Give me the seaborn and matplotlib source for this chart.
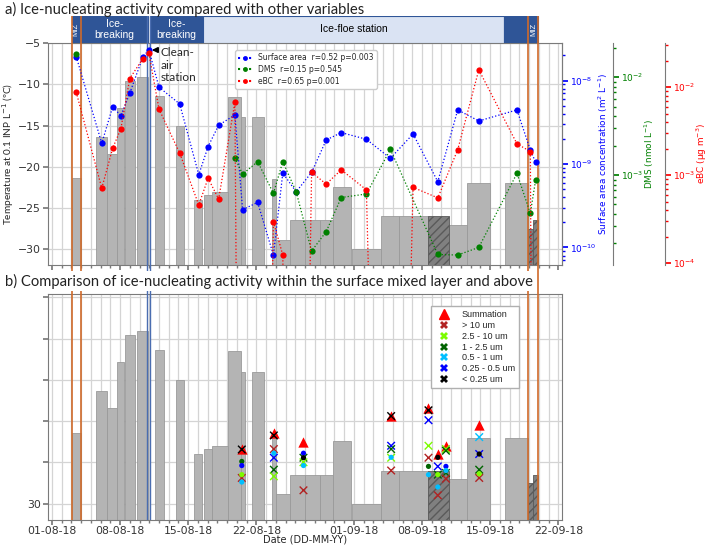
import numpy as np
import matplotlib
matplotlib.use("Agg")
import matplotlib.pyplot as plt
import matplotlib.dates as mdates
from matplotlib.lines import Line2D
import seaborn as sns

sns.set_theme(style="white")
plt.rcParams["font.family"] = ["DejaVu Sans"]

# INP temperature bars (filter sampling periods)
bar_start = ["2018-08-03 01:00", "2018-08-05 13:00", "2018-08-06 17:00", "2018-08-07 17:00",
             "2018-08-08 12:00", "2018-08-09 17:00", "2018-08-11 14:00", "2018-08-13 18:00",
             "2018-08-15 14:00", "2018-08-16 16:00", "2018-08-17 11:00", "2018-08-19 01:00",
             "2018-08-20 11:00", "2018-08-21 12:00", "2018-08-23 15:00", "2018-08-23 23:30",
             "2018-08-25 12:00", "2018-08-26 23:00", "2018-08-28 13:30", "2018-08-29 20:00",
             "2018-08-31 20:00", "2018-09-03 19:30", "2018-09-05 16:00", "2018-09-08 15:00",
             "2018-09-10 18:00", "2018-09-12 16:00", "2018-09-16 13:00", "2018-09-18 22:00",
             "2018-09-19 10:00"]
bar_end = ["2018-08-03 23:00", "2018-08-06 17:00", "2018-08-07 17:00", "2018-08-08 10:00",
           "2018-08-09 13:00", "2018-08-10 20:00", "2018-08-12 12:00", "2018-08-14 13:30",
           "2018-08-16 11:00", "2018-08-17 11:00", "2018-08-19 01:00", "2018-08-20 11:00",
           "2018-08-20 19:00", "2018-08-22 18:00", "2018-08-23 23:30", "2018-08-25 12:00",
           "2018-08-26 23:00", "2018-08-28 13:30", "2018-08-29 20:00", "2018-08-31 16:00",
           "2018-09-03 19:30", "2018-09-05 16:00", "2018-09-08 15:00", "2018-09-10 18:00",
           "2018-09-12 16:00", "2018-09-14 23:30", "2018-09-18 22:00", "2018-09-19 10:00",
           "2018-09-19 23:00"]
bar_temp = [-21.4, -16.4, -18.4, -12.9, -9.6, -9.1, -11.4, -15.0, -24.0, -23.4, -23.0, -11.5,
            -14.0, -14.0, -21.5, -28.9, -26.5, -26.5, -26.5, -22.4, -30.0, -26.0, -26.0, -26.0,
            -27.0, -22.0, -22.0, -27.5, -26.5]
bar_hatched = [False] * 23 + [True] + [False] * 3 + [True, True]

# aerosol sampling times, surface area and eBC (0 = below detection)
t_sample = ["2018-08-03 12:00", "2018-08-06 03:00", "2018-08-07 06:00", "2018-08-08 02:00",
            "2018-08-09 00:00", "2018-08-10 08:00", "2018-08-10 23:00", "2018-08-12 00:00",
            "2018-08-14 03:00", "2018-08-16 02:00", "2018-08-17 01:00", "2018-08-18 03:00",
            "2018-08-19 19:00", "2018-08-20 14:00", "2018-08-22 03:00", "2018-08-23 18:00",
            "2018-08-24 17:00", "2018-08-26 02:00", "2018-08-27 16:00", "2018-08-29 04:00",
            "2018-08-30 17:00", "2018-09-02 07:00", "2018-09-04 18:00", "2018-09-07 02:00",
            "2018-09-09 15:00", "2018-09-11 16:00", "2018-09-13 20:00", "2018-09-17 18:00",
            "2018-09-19 03:00", "2018-09-19 16:00"]
surface_area = [1.94e-8, 1.77e-9, 4.88e-9, 3.77e-9, 7.06e-9, 1.91e-8, 2.34e-8, 8.33e-9,
                5.25e-9, 7.44e-10, 1.62e-9, 2.92e-9, 3.87e-9, 2.84e-10, 3.47e-10, 8.09e-11,
                7.80e-10, 4.65e-10, 7.94e-10, 1.94e-9, 2.38e-9, 1.98e-9, 1.17e-9, 2.29e-9,
                6.14e-10, 4.45e-9, 3.28e-9, 4.45e-9, 1.47e-9, 1.05e-9]
ebc = [8.77e-3, 7.11e-4, 2.03e-3, 3.36e-3, 1.25e-2, 2.10e-2, 2.43e-2, 5.62e-3, 1.78e-3,
       4.59e-4, 9.24e-4, 5.34e-4, 6.72e-3, 0, 0, 2.97e-4, 1.24e-4, 0, 1.08e-3, 7.91e-4,
       1.15e-3, 6.81e-4, 0, 7.26e-4, 5.52e-4, 1.94e-3, 1.57e-2, 2.27e-3, 1.85e-3, 0]

# DMS
t_dms_first = ["2018-08-03 12:00"]
dms_first = [1.73e-2]
t_dms = ["2018-08-19 19:00", "2018-08-20 14:00", "2018-08-22 03:00", "2018-08-23 18:00",
         "2018-08-24 17:00", "2018-08-26 02:00", "2018-08-27 16:00", "2018-08-29 04:00",
         "2018-08-30 17:00", "2018-09-02 07:00", "2018-09-04 18:00", "2018-09-09 15:00",
         "2018-09-11 16:00", "2018-09-13 20:00", "2018-09-17 18:00", "2018-09-19 03:00",
         "2018-09-19 16:00"]
dms = [1.50e-3, 1.02e-3, 1.37e-3, 6.50e-4, 1.37e-3, 6.75e-4, 1.67e-4, 2.64e-4, 5.89e-4,
       6.40e-4, 1.83e-3, 1.54e-4, 1.52e-4, 1.82e-4, 1.04e-3, 4.06e-4, 8.89e-4]

# cruise phases (header)
phase_start = ["2018-08-03 01:00", "2018-08-03 23:00", "2018-08-11 01:40", "2018-08-16 12:45",
               "2018-09-16 10:30", "2018-09-18 22:00"]
phase_end = ["2018-08-03 23:00", "2018-08-10 21:30", "2018-08-16 12:45", "2018-09-16 10:30",
             "2018-09-18 22:00", "2018-09-19 23:00"]
phase_label = ["MIZ", "Ice-\nbreaking", "Ice-\nbreaking", "Ice-floe station", "", "MIZ"]
phase_dark = [True, True, True, False, True, True]
miz_edges = ["2018-08-03 01:00", "2018-08-03 23:00", "2018-09-18 22:00", "2018-09-19 23:00"]
clean_air = ["2018-08-10 19:10", "2018-08-11 01:40"]

# panel b: size-resolved INP temperatures
sum_date = ["2018-08-20 12:00", "2018-08-23 19:00", "2018-08-26 20:00", "2018-09-04 20:00",
            "2018-09-08 16:00", "2018-09-09 15:00", "2018-09-10 11:00", "2018-09-13 21:00"]
sum_temp = [-23.45, -21.5, -22.5, -19.4, -18.4, -24.0, -23.0, -20.45]

cross_date = ["2018-08-20 12:00", "2018-08-20 12:00",
              "2018-08-23 19:00", "2018-08-23 19:00", "2018-08-23 19:00", "2018-08-23 19:00", "2018-08-23 19:00",
              "2018-08-26 20:00", "2018-08-26 20:00", "2018-08-26 20:00",
              "2018-09-04 20:00", "2018-09-04 20:00", "2018-09-04 20:00", "2018-09-04 20:00", "2018-09-04 20:00",
              "2018-09-08 16:00", "2018-09-08 16:00", "2018-09-08 16:00", "2018-09-08 16:00",
              "2018-09-09 15:00", "2018-09-09 15:00", "2018-09-09 15:00",
              "2018-09-10 11:00", "2018-09-10 11:00", "2018-09-10 11:00", "2018-09-10 11:00",
              "2018-09-13 21:00", "2018-09-13 21:00", "2018-09-13 21:00", "2018-09-13 21:00"]
cross_size = ["<0.25", ">10",
              "<0.25", ">10", "0.25-0.5", "1-2.5", "2.5-10",
              "1-2.5", "2.5-10", ">10",
              "<0.25", "0.25-0.5", "1-2.5", "2.5-10", ">10",
              "<0.25", "0.25-0.5", "2.5-10", ">10",
              "0.25-0.5", "1-2.5", ">10",
              "2.5-10", "1-2.5", "1-2.5", ">10",
              "0.5-1", "0.25-0.5", "1-2.5", ">10"]
cross_temp = [-23.45, -26.9,
              -21.75, -23.4, -24.45, -25.9, -26.7,
              -24.45, -25.0, -28.4,
              -19.4, -23.0, -23.4, -24.45, -26.0,
              -18.7, -19.9, -23.0, -24.45,
              -25.5, -26.5, -29.0,
              -23.4, -23.6, -26.3, -27.0,
              -21.95, -24.0, -25.9, -26.9]

dot_date = ["2018-08-20 12:00", "2018-08-20 12:00", "2018-08-20 12:00", "2018-08-20 12:00",
            "2018-08-23 19:00",
            "2018-08-26 20:00", "2018-08-26 20:00", "2018-08-26 20:00",
            "2018-09-04 20:00",
            "2018-09-08 16:00", "2018-09-08 16:00",
            "2018-09-09 15:00", "2018-09-09 15:00", "2018-09-09 15:00",
            "2018-09-10 11:00", "2018-09-10 11:00",
            "2018-09-13 21:00", "2018-09-13 21:00"]
dot_size = ["1-2.5", "0.25-0.5", "2.5-10", "0.5-1",
            "0.5-1",
            "0.25-0.5", "<0.25", "0.5-1",
            "0.5-1",
            "1-2.5", "0.5-1",
            "<0.25", "2.5-10", "0.5-1",
            "0.25-0.5", "0.5-1",
            "<0.25", "2.5-10"]
dot_temp = [-24.9, -25.4, -26.5, -27.4,
            -23.9,
            -23.9, -24.45, -25.4,
            -24.4,
            -25.5, -26.5,
            -24.4, -26.5, -28.0,
            -25.5, -26.0,
            -24.0, -26.4]

size_keys = [">10", "2.5-10", "1-2.5", "0.5-1", "0.25-0.5", "<0.25"]
size_labels = ["> 10 um", "2.5 - 10 um", "1 - 2.5 um", "0.5 - 1 um", "0.25 - 0.5 um", "< 0.25 um"]
size_colors = ["#b22222", "#7cfc00", "#006400", "#00bfff", "#0000ff", "#000000"]
palette = dict(zip(size_keys, size_colors))

SA_C, DMS_C, EBC_C = "#0000ff", "#008000", "#ff0000"
ORANGE, STEEL = "#cf6a2a", "#4a6db0"
DARK_BLUE, LIGHT_BLUE = "#2f5597", "#dae3f3"
num = mdates.datestr2num

fig = plt.figure(figsize=(7.09, 5.45), dpi=100)
L, W = 48 / 709, 514 / 709
ax_a = fig.add_axes([L, 1 - 265 / 545, W, 222 / 545])
ax_h = fig.add_axes([L, 1 - 43 / 545, W, 27 / 545], sharex=ax_a)
ax_b = fig.add_axes([L, 1 - 520 / 545, W, 226 / 545], sharex=ax_a)
ax_v = fig.add_axes([L, 1 - 520 / 545, W, 504 / 545], sharex=ax_a)

x_lo = num("2018-07-31 14:30")
x_hi = num("2018-09-22 09:00")
base = -40


def draw_bars(ax):
    x0, x1 = num(bar_start), num(bar_end)
    temps = np.array(bar_temp)
    hatched = np.array(bar_hatched)
    ax.bar(x0[~hatched], temps[~hatched] - base, width=(x1 - x0)[~hatched], bottom=base,
           align="edge", color="#b4b4b4", edgecolor="#9a9a9a", linewidth=0.6, zorder=2)
    ax.bar(x0[hatched], temps[hatched] - base, width=(x1 - x0)[hatched], bottom=base,
           align="edge", color="#808080", edgecolor="#5a5a5a", linewidth=0.6, hatch="////", zorder=2)


def style_grid(ax):
    ax.xaxis.set_major_locator(mdates.DayLocator(bymonthday=[1, 8, 15, 22]))
    ax.xaxis.set_major_formatter(mdates.DateFormatter("%d-%m-%y"))
    ax.xaxis.set_minor_locator(mdates.DayLocator())
    ax.grid(axis="x", which="both", color="#d4d4d4", linewidth=0.9)
    ax.grid(axis="y", which="major", color="#d4d4d4", linewidth=0.9)
    ax.set_axisbelow(True)
    for s in ax.spines.values():
        s.set_color("#7a7a7a")
        s.set_linewidth(0.8)
    ax.tick_params(axis="both", which="both", bottom=True, left=True, color="#7a7a7a",
                   labelsize=7.8, labelcolor="#333333")
    ax.tick_params(axis="y", which="major", length=3.5, pad=1.5)
    ax.tick_params(axis="x", which="major", length=3.5, pad=0.5)
    ax.tick_params(axis="x", which="minor", length=2)


# ---- panel a ----
draw_bars(ax_a)
style_grid(ax_a)
ax_a.set_xlim(x_lo, x_hi)
ax_a.set_ylim(-31.9, -5)
ax_a.set_yticks([-30, -25, -20, -15, -10, -5])
ax_a.tick_params(labelbottom=False)
ax_a.set_ylabel("Temperature at 0.1 INP L$^{-1}$ (ºC)", fontsize=7.2, family="Lato", va="center")
ax_a.yaxis.set_label_coords(-0.077, 0.5)

ax_sa = ax_a.twinx()
ax_dms = ax_a.twinx()
ax_ebc = ax_a.twinx()
ax_dms.spines["right"].set_position(("axes", 1.0998))
ax_ebc.spines["right"].set_position(("axes", 1.2004))

sns.lineplot(x=num(t_sample), y=surface_area, ax=ax_sa, color=SA_C, marker="o", linestyle=":",
             linewidth=0.9, markersize=4.5, markeredgewidth=0, estimator=None, sort=False,
             legend=False)
sns.lineplot(x=num(t_dms), y=dms, ax=ax_dms, color=DMS_C, marker="o", linestyle=":",
             linewidth=0.9, markersize=4.5, markeredgewidth=0, estimator=None, sort=False,
             legend=False)
sns.scatterplot(x=num(t_dms_first), y=dms_first, ax=ax_dms, color=DMS_C, s=20, linewidth=0,
                legend=False)
ebc_plot = np.where(np.array(ebc) > 0, ebc, 1e-14)
sns.lineplot(x=num(t_sample), y=ebc_plot, ax=ax_ebc, color=EBC_C, marker="o", linestyle=":",
             linewidth=0.9, markersize=4.5, markeredgewidth=0, estimator=None, sort=False,
             legend=False)

for ax, c, lims, lab, pos in [
        (ax_sa, SA_C, (10 ** -10.21, 10 ** -7.55), "Surface area concentration (m$^2$ L$^{-1}$)", 1.08),
        (ax_dms, DMS_C, (10 ** -3.92, 10 ** -1.65), "DMS (nmol L$^{-1}$)", 1.17),
        (ax_ebc, EBC_C, (10 ** -4.02, 10 ** -1.5), "eBC (µg m$^{-3}$)", 1.272)]:
    ax.set_yscale("log")
    ax.set_ylim(*lims)
    ax.set_ylabel(lab, color=c, fontsize=6.4, va="center")
    ax.yaxis.set_label_coords(pos, 0.5)
    ax.tick_params(axis="y", which="both", colors=c, labelsize=6.5, pad=1.5)
    ax.tick_params(axis="y", which="major", length=4)
    ax.tick_params(axis="y", which="minor", length=2)
    for side in ["left", "top", "bottom"]:
        ax.spines[side].set_visible(False)
    ax.spines["right"].set_color("#7a7a7a")
    ax.spines["right"].set_linewidth(0.8)

handles_a = [
    Line2D([], [], color=SA_C, ls=":", marker="o", ms=3.5, mew=0, label="Surface area  r=0.52 p=0.003"),
    Line2D([], [], color=DMS_C, ls=":", marker="o", ms=3.5, mew=0, label="DMS  r=0.15 p=0.545"),
    Line2D([], [], color=EBC_C, ls=":", marker="o", ms=3.5, mew=0, label="eBC  r=0.65 p=0.001"),
]
ax_ebc.legend(handles=handles_a, loc="upper left", bbox_to_anchor=(0.357, 0.985), fontsize=5.5,
              frameon=True, framealpha=1, edgecolor="#cccccc", fancybox=True,
              borderpad=0.4, labelspacing=0.35, handlelength=1.8)

ax_a.annotate("", xy=(num("2018-08-10 23:30"), -5.85), xytext=(num("2018-08-11 23:00"), -5.85),
              arrowprops=dict(arrowstyle="-|>", color="black", lw=1.2, mutation_scale=8))
ax_a.text(num("2018-08-12 03:00"), -5.45, "Clean-\nair\nstation", fontsize=8.5, family="Lato",
          va="top", ha="left", linespacing=1.2)

# ---- header ----
ax_h.axis("off")
ax_h.set_ylim(0, 1)
p0, p1 = num(phase_start), num(phase_end)
for s, e, lab, dark in zip(p0, p1, phase_label, phase_dark):
    ax_h.barh(0.5, e - s, left=s, height=1, color=DARK_BLUE if dark else LIGHT_BLUE,
              edgecolor=DARK_BLUE, linewidth=0.8)
    if lab == "MIZ":
        ax_h.text((s + e) / 2, 0.5, lab, rotation=90, color="white", fontsize=5.5,
                  ha="center", va="center", family="Liberation Sans")
    elif lab:
        ax_h.text((s + e) / 2, 0.5, lab, color="white" if dark else "black", fontsize=7.5,
                  ha="center", va="center", family="Liberation Sans", linespacing=1.1)

# ---- panel b ----
draw_bars(ax_b)
style_grid(ax_b)
ax_b.set_ylim(-32, -4.6)
ax_b.set_yticks([-30, -25, -20, -15, -10, -5])
ax_b.set_yticklabels(["30", "", "", "", "", ""])
ax_b.set_xlabel("Date (DD-MM-YY)", fontsize=7, va="center")
ax_b.xaxis.set_label_coords(0.5, -0.086)

sns.scatterplot(x=num(cross_date), y=cross_temp, hue=cross_size, palette=palette, marker="x",
                s=30, linewidth=1.0, ax=ax_b, legend=False, zorder=4)
sns.scatterplot(x=num(dot_date), y=dot_temp, hue=dot_size, palette=palette, marker="o",
                s=14, linewidth=0, ax=ax_b, legend=False, zorder=4)
sns.scatterplot(x=num(sum_date), y=sum_temp, color="red", marker="^", s=55, linewidth=0,
                ax=ax_b, legend=False, zorder=3)

handles_b = [Line2D([], [], color="red", marker="^", ls="", ms=7, label="Summation")]
handles_b += [Line2D([], [], color=c, marker="X", ls="", ms=5.5, mew=0, label=l)
              for c, l in zip(size_colors, size_labels)]
ax_b.legend(handles=handles_b, loc="upper left", bbox_to_anchor=(0.736, 0.966),
            prop={"family": "Liberation Sans", "size": 6.5}, frameon=True, framealpha=1,
            edgecolor="#b0b0b0", fancybox=False, borderpad=0.45, labelspacing=0.2,
            handletextpad=1.0)

# ---- vertical marker lines across both panels ----
ax_v.axis("off")
ax_v.set_ylim(0, 1)
ax_v.patch.set_visible(False)
for x in num(miz_edges):
    ax_v.axvline(x, color=ORANGE, lw=1.2)
for x in num(clean_air):
    ax_v.axvline(x, color=STEEL, lw=1.0)
ax_v.set_xlim(x_lo, x_hi)

fig.text(0.007, 1 - 9 / 545, "a) Ice-nucleating activity compared with other variables",
         fontsize=10.6, family="Lato", va="center", ha="left", color="#222222")
fig.text(0.007, 1 - 281 / 545,
         "b) Comparison of ice-nucleating activity within the surface mixed layer and above",
         fontsize=10.6, family="Lato", va="center", ha="left", color="#222222",
         bbox=dict(facecolor="white", edgecolor="none", pad=2))

fig.savefig("out.png", dpi=100)
